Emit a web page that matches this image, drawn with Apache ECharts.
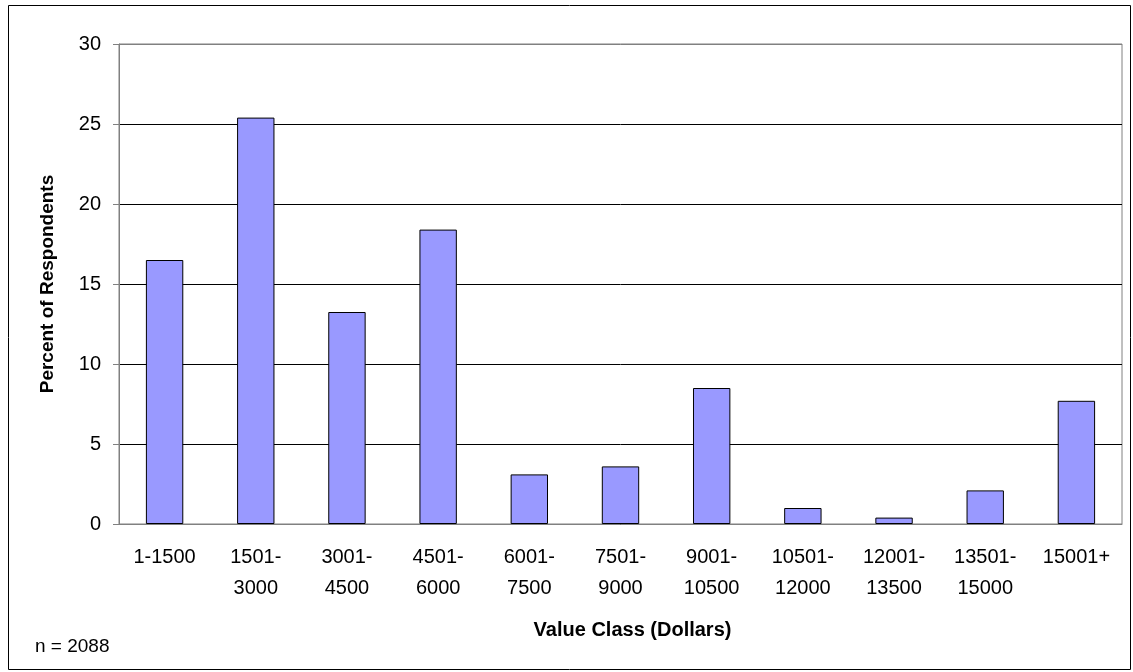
<!DOCTYPE html>
<html>
<head>
<meta charset="utf-8">
<script src="https://cdn.jsdelivr.net/npm/echarts@6/dist/echarts.min.js"></script>
<style>
  html, body { margin: 0; padding: 0; background: #fff; }
  #chart { width: 1133px; height: 672px; }
</style>
</head>
<body>
<div id="chart"></div>
<script>
const categories = ['1-1500', '1501-\n3000', '3001-\n4500', '4501-\n6000', '6001-\n7500', '7501-\n9000',
  '9001-\n10500', '10501-\n12000', '12001-\n13500', '13501-\n15000', '15001+']
const percents = [16.5, 25.4, 13.25, 18.4, 3.1, 3.6, 8.5, 1.0, 0.4, 2.1, 7.7]
const sampleNote = 'n = 2088'

const FONT = '"Liberation Sans", Arial, sans-serif'
const chart = echarts.init(document.getElementById('chart'), null, { renderer: 'canvas' })

chart.setOption({
  animation: false,
  backgroundColor: '#fff',
  grid: { left: 119, right: 11, top: 44, bottom: 148, show: true, borderColor: '#808080', borderWidth: 1 },
  xAxis: {
    type: 'category',
    data: categories,
    name: 'Value Class (Dollars)',
    nameLocation: 'middle',
    nameGap: 96,
    nameTextStyle: { fontFamily: FONT, fontSize: 20, fontWeight: 'bold', color: '#000', padding: [0, 0, 0, 24] },
    axisLine: { lineStyle: { color: '#808080', width: 1 } },
    axisTick: { length: 7, lineStyle: { color: '#808080' } },
    axisLabel: { fontFamily: FONT, fontSize: 20, color: '#000', margin: 18, lineHeight: 31, interval: 0, verticalAlign: 'top' }
  },
  yAxis: {
    type: 'value',
    min: 0,
    max: 30,
    interval: 5,
    name: 'Percent of Respondents',
    nameLocation: 'middle',
    nameGap: 62,
    nameTextStyle: { fontFamily: FONT, fontSize: 19, fontWeight: 'bold', color: '#000' },
    axisLine: { show: true, lineStyle: { color: '#808080', width: 1 } },
    axisTick: { show: true, length: 6, lineStyle: { color: '#808080' } },
    axisLabel: { fontFamily: FONT, fontSize: 20, color: '#000', margin: 18 },
    splitLine: { lineStyle: { color: ['#000', '#000', '#000', '#000', '#000', '#000', '#808080'], width: 1 } }
  },
  series: [{
    type: 'bar',
    data: percents,
    barWidth: '41%',
    itemStyle: { color: '#9999ff', borderColor: '#000', borderWidth: 1 }
  }],
  graphic: [
    { type: 'rect', shape: { x: 8.5, y: 5.5, width: 1122, height: 664 }, style: { fill: 'none', stroke: '#000', lineWidth: 1 }, silent: true },
    { type: 'text', left: 35, top: 637, style: { text: sampleNote, font: '19px ' + FONT, fill: '#000' } }
  ]
})
</script>
</body>
</html>
